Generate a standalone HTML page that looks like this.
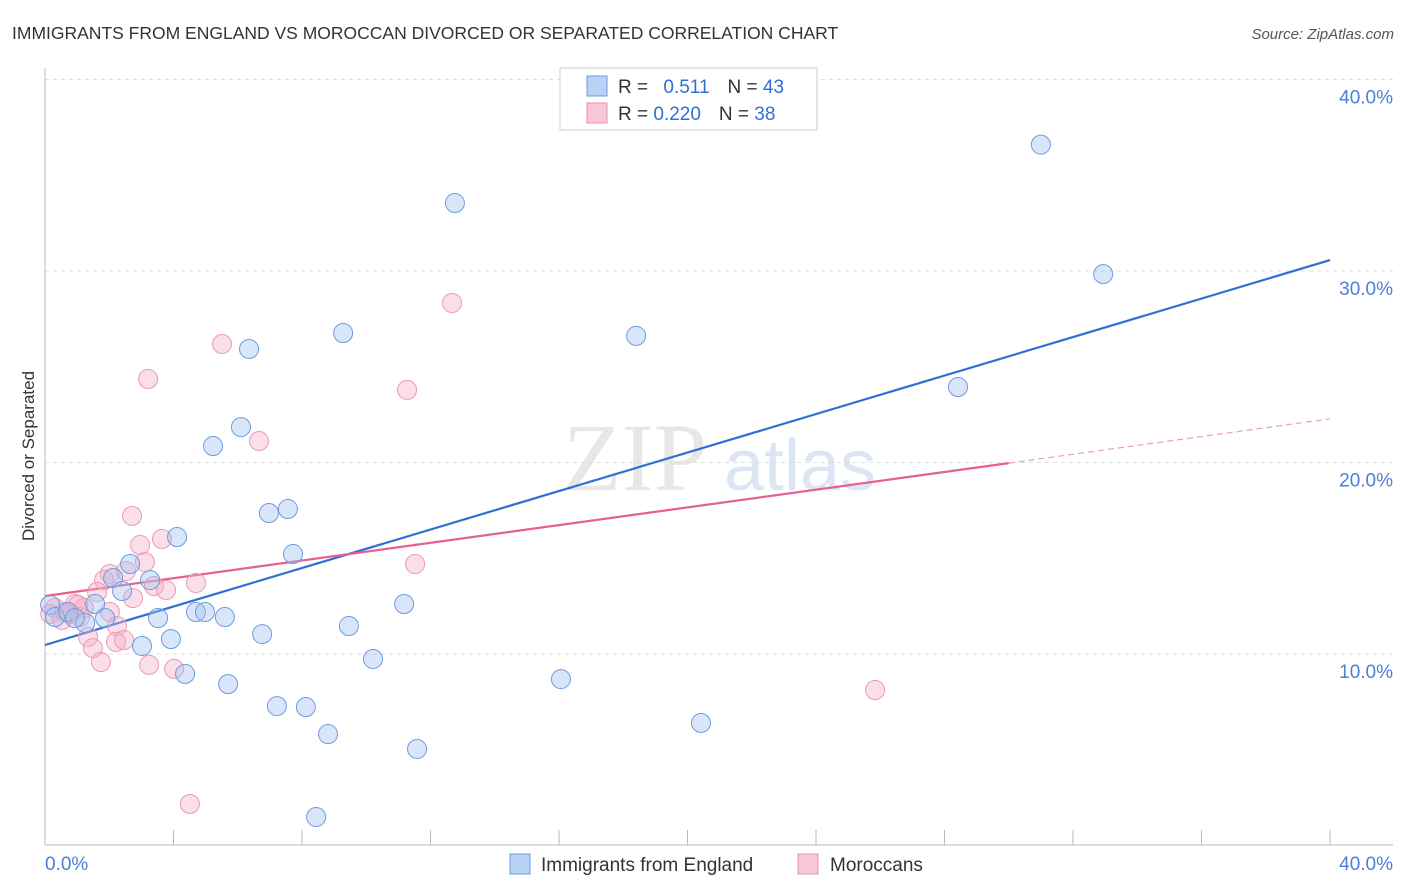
<!DOCTYPE html>
<html><head><meta charset="utf-8"><style>
body{margin:0;background:#fff;font-family:"Liberation Sans",sans-serif}
svg{display:block}
</style></head><body>
<svg id="c" width="1406" height="892" xmlns="http://www.w3.org/2000/svg">
<text x="12" y="39" font-size="17.5" fill="#333">IMMIGRANTS FROM ENGLAND VS MOROCCAN DIVORCED OR SEPARATED CORRELATION CHART</text>
<text x="1394" y="39" font-size="15" fill="#555" font-style="italic" text-anchor="end">Source: ZipAtlas.com</text>
<text transform="translate(34,456) rotate(-90)" font-size="17" fill="#333" text-anchor="middle">Divorced or Separated</text>
<g><text x="635" y="490" font-size="96" fill="#d8d8d8" font-family="Liberation Serif,serif" text-anchor="middle" opacity="0.6">ZIP</text><text x="800" y="490" font-size="72" fill="#b8cdea" text-anchor="middle" opacity="0.5">atlas</text></g>
<g id="grid"></g><g id="axes"></g><g id="lines"></g><g id="pts"></g>
<g>
<rect x="560" y="68" width="257" height="62" fill="#fff" stroke="#ccc"/>
<rect x="587" y="76" width="20" height="20" fill="#b8d2f5" stroke="#6b9be0"/>
<rect x="587" y="103" width="20" height="20" fill="#f9c8d8" stroke="#e890ab"/>
<text x="618" y="93" font-size="19" fill="#333">R = <tspan fill="#2f6fd6" dx="10">0.511</tspan><tspan dx="18" fill="#333">N = </tspan><tspan fill="#2f6fd6">43</tspan></text>
<text x="618" y="120" font-size="19" fill="#333">R = <tspan fill="#2f6fd6">0.220</tspan><tspan dx="18" fill="#333">N = </tspan><tspan fill="#2f6fd6">38</tspan></text>
</g>
<g>
<rect x="510" y="854" width="20" height="20" fill="#b8d2f5" stroke="#6b9be0"/>
<text x="541" y="871" font-size="19" fill="#333">Immigrants from England</text>
<rect x="798" y="854" width="20" height="20" fill="#f9c8d8" stroke="#e890ab"/>
<text x="830" y="871" font-size="19" fill="#333">Moroccans</text>
</g>
</svg>
<script>
const yTicks=[10,20,30,40];
const xTickLabels=["0.0%","40.0%"];
const englandX=[31.0,12.76,32.94,9.28,18.40,6.35,28.42,6.10,5.23,7.56,6.97,4.11,7.72,2.65,2.12,3.27,2.40,1.56,11.18,4.70,4.98,5.60,3.52,1.87,1.25,9.46,6.76,3.92,3.02,10.21,4.36,16.06,5.70,7.22,8.12,20.42,8.81,11.58,8.44,0.16,0.31,0.72,0.93];
const englandY=[36.6,33.55,29.84,26.76,26.61,25.93,23.94,21.85,20.86,17.57,17.36,16.11,15.22,14.70,13.97,13.86,13.29,12.61,12.61,12.19,12.19,11.93,11.88,11.88,11.62,11.46,11.04,10.78,10.42,9.74,8.96,8.69,8.43,7.28,7.23,6.40,5.82,5.04,1.49,12.56,11.93,12.19,11.88];
const moroccanX=[12.67,5.51,3.21,11.27,6.66,2.71,3.64,2.96,3.11,11.52,2.02,2.52,1.84,4.70,3.39,3.77,2.74,1.62,0.93,1.21,0.31,0.16,0.53,0.78,1.09,2.02,2.24,1.34,2.21,2.46,1.49,1.74,3.24,4.02,25.84,4.51,1.03,0.62];
const moroccanY=[28.33,26.19,24.36,23.79,21.12,17.21,16.01,15.69,14.80,14.70,14.18,14.33,13.86,13.71,13.55,13.34,12.92,13.24,12.61,12.40,12.40,12.09,11.78,12.09,11.93,12.19,11.46,10.89,10.63,10.73,10.31,9.58,9.43,9.22,8.12,2.17,12.56,12.19];
const englandTrend=[10.47,30.57];
const moroccanTrend=[13.03,22.28];
const moroccanSolidEnd=30;
const NS="http://www.w3.org/2000/svg";
const X=v=>45+v/40*1285, Y=v=>845.5-v*19.15;
function mk(t,a,p){const e=document.createElementNS(NS,t);for(const k in a)e.setAttribute(k,a[k]);document.getElementById(p).appendChild(e);return e;}
yTicks.forEach(t=>{
 const g=mk('line',{x1:45,x2:1393,y1:Y(t),y2:Y(t),stroke:'#ddd','stroke-dasharray':'4,4'},'grid');
 
 
 const l=mk('text',{x:1393,y:Y(t)+24,'font-size':19,fill:'#4a7fdc','text-anchor':'end'},'axes');l.textContent=t.toFixed(1)+'%';
 
 
});
const ax=mk('line',{x1:45,x2:1393,y1:845,y2:845,stroke:'#bbb'},'axes');


const ay=mk('line',{x1:45,x2:45,y1:68,y2:845,stroke:'#bbb'},'axes');


for(let v=4;v<=40;v+=4){const t=mk('line',{x1:X(v),x2:X(v),y1:830,y2:845,stroke:'#bbb'},'axes');
 
 }
[[0,'start',45],[40,'end',1393]].forEach((a,i)=>{const l=mk('text',{x:a[2],y:870,'font-size':19,fill:'#4a7fdc','text-anchor':a[1]},'axes');l.textContent=xTickLabels[i];
 
 });
function pts(xs,ys,f,s,n){xs.forEach((x,i)=>{const c=mk('circle',{cx:X(x),cy:Y(ys[i]),r:9.5,fill:f,stroke:s,'stroke-width':1},'pts');
 
 });}
pts(moroccanX,moroccanY,'rgba(246,176,198,0.4)','#eb9ab4','moroccan-point');
pts(englandX,englandY,'rgba(160,192,240,0.4)','#6d9be0','england-point');
const bl=mk('line',{x1:X(0),y1:Y(englandTrend[0]),x2:X(40),y2:Y(englandTrend[1]),stroke:'#2f6fd6','stroke-width':2.2},'lines');


const pm=v=>moroccanTrend[0]+(moroccanTrend[1]-moroccanTrend[0])*v/40;
const pl=mk('line',{x1:X(0),y1:Y(pm(0)),x2:X(moroccanSolidEnd),y2:Y(pm(moroccanSolidEnd)),stroke:'#e8608f','stroke-width':2.2},'lines');


const pd=mk('line',{x1:X(moroccanSolidEnd),y1:Y(pm(moroccanSolidEnd)),x2:X(40),y2:Y(pm(40)),stroke:'#e8a0b8','stroke-width':1.2,'stroke-dasharray':'6,4'},'lines');


</script>
</body></html>
